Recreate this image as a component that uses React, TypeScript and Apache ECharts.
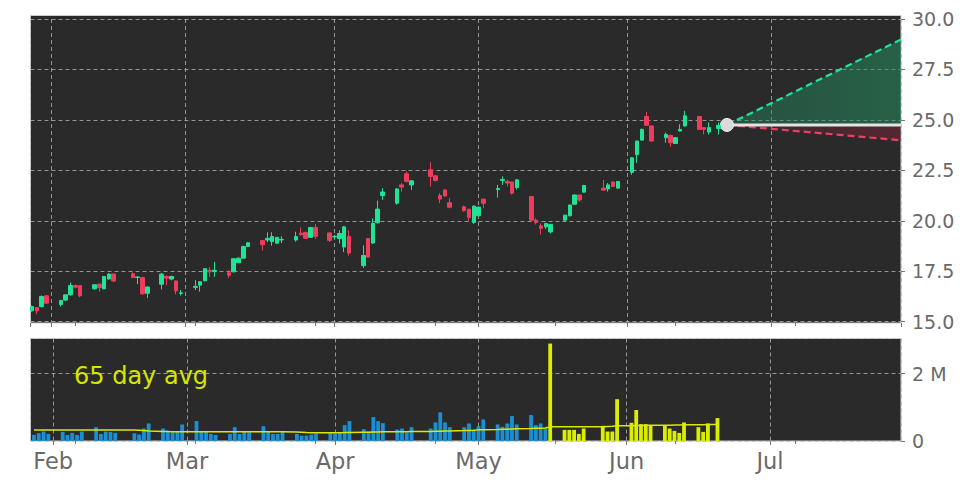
import React, { useEffect, useRef } from 'react';
import * as echarts from 'echarts';

// ---- data ----
const dates = [
  '2025-01-28','2025-01-29','2025-01-30','2025-01-31',
  '2025-02-03','2025-02-04','2025-02-05','2025-02-06','2025-02-07',
  '2025-02-10','2025-02-11','2025-02-12','2025-02-13','2025-02-14',
  '2025-02-18','2025-02-19','2025-02-20','2025-02-21',
  '2025-02-24','2025-02-25','2025-02-26','2025-02-27','2025-02-28',
  '2025-03-03','2025-03-04','2025-03-05','2025-03-06','2025-03-07',
  '2025-03-10','2025-03-11','2025-03-12','2025-03-13','2025-03-14',
  '2025-03-17','2025-03-18','2025-03-19','2025-03-20','2025-03-21',
  '2025-03-24','2025-03-25','2025-03-26','2025-03-27','2025-03-28',
  '2025-03-31','2025-04-01','2025-04-02','2025-04-03','2025-04-04',
  '2025-04-07','2025-04-08','2025-04-09','2025-04-10','2025-04-11',
  '2025-04-14','2025-04-15','2025-04-16','2025-04-17',
  '2025-04-21','2025-04-22','2025-04-23','2025-04-24','2025-04-25',
  '2025-04-28','2025-04-29','2025-04-30','2025-05-01','2025-05-02',
  '2025-05-05','2025-05-06','2025-05-07','2025-05-08','2025-05-09',
  '2025-05-12','2025-05-13','2025-05-14','2025-05-15','2025-05-16',
  '2025-05-19','2025-05-20','2025-05-21','2025-05-22','2025-05-23',
  '2025-05-27','2025-05-28','2025-05-29','2025-05-30',
  '2025-06-02','2025-06-03','2025-06-04','2025-06-05','2025-06-06',
  '2025-06-09','2025-06-10','2025-06-11','2025-06-12','2025-06-13',
  '2025-06-16','2025-06-17','2025-06-18','2025-06-20',
];

const openP = [
  15.54,15.70,15.75,16.28,
  15.85,16.07,16.33,16.79,16.79,
  16.63,16.86,16.63,17.12,17.36,
  17.37,17.19,17.19,16.41,
  16.86,17.24,17.11,17.02,16.40,
  16.70,16.81,17.03,17.55,17.50,
  17.43,17.47,17.92,18.15,18.73,
  19.02,19.05,18.97,18.89,19.05,
  19.05,19.39,19.43,19.18,19.67,
  19.40,19.20,19.12,18.70,19.23,
  17.78,19.12,18.90,19.90,21.25,
  20.87,21.78,22.33,21.78,
  22.53,22.23,21.25,21.53,20.90,
  20.70,20.57,19.92,20.25,21.07,
  21.55,22.00,21.95,21.92,21.65,
  21.20,20.03,19.75,19.70,19.45,
  20.03,20.25,20.82,21.28,21.42,
  21.62,21.58,21.92,21.62,
  22.40,23.28,24.00,25.17,24.70,
  24.12,24.23,23.83,24.45,24.70,
  25.17,24.62,24.40,24.57,
];
const closeP = [
  15.75,15.54,16.25,15.92,
  16.05,16.33,16.79,16.71,16.28,
  16.83,16.69,17.24,17.36,17.02,
  17.19,17.22,16.38,16.72,
  17.36,17.16,17.24,16.53,16.43,
  16.75,16.98,17.63,17.47,17.55,
  17.30,18.12,18.15,18.73,18.91,
  18.81,19.13,19.22,19.18,19.08,
  19.22,19.31,19.13,19.67,19.23,
  19.03,19.23,19.37,19.70,18.40,
  18.28,18.20,19.87,20.58,21.43,
  21.58,21.67,21.95,21.98,
  22.20,22.00,21.08,21.23,20.67,
  20.50,20.17,20.73,20.68,20.87,
  21.60,22.05,21.87,21.37,22.03,
  20.03,19.92,19.62,19.87,19.82,
  20.28,20.78,21.28,21.03,21.75,
  21.52,21.78,21.70,21.95,
  23.12,23.95,24.53,24.73,23.95,
  24.28,23.87,24.12,24.53,25.20,
  24.53,24.53,24.62,24.73,
];
const lowP = [
  15.50,15.37,15.70,15.88,
  15.75,16.02,16.30,16.65,16.22,
  16.58,16.49,16.60,17.08,16.95,
  17.15,16.86,16.33,16.17,
  16.60,16.80,17.05,16.36,16.30,
  16.57,16.49,17.00,17.22,17.22,
  17.17,17.45,17.90,18.12,18.70,
  18.53,18.94,18.77,18.86,18.90,
  18.97,19.26,19.10,19.15,19.10,
  18.95,19.10,18.87,18.45,18.28,
  17.67,18.17,18.85,19.87,21.03,
  20.80,21.45,21.90,21.53,
  21.70,21.95,20.87,21.20,20.62,
  20.45,20.00,19.85,20.22,20.62,
  21.15,21.78,21.70,21.30,21.55,
  20.00,19.82,19.32,19.60,19.37,
  20.00,20.22,20.80,20.95,21.40,
  21.50,21.45,21.68,21.58,
  22.28,22.87,23.97,24.70,23.93,
  23.87,23.67,23.80,24.43,24.67,
  24.50,24.28,24.28,24.28,
];
const highP = [
  15.80,15.72,16.30,16.32,
  16.08,16.36,16.94,16.85,16.82,
  16.86,16.90,17.27,17.40,17.38,
  17.45,17.25,17.22,16.75,
  17.40,17.30,17.28,17.05,16.57,
  17.06,17.00,17.65,17.71,17.96,
  17.55,18.15,18.18,18.76,18.94,
  19.05,19.43,19.43,19.20,19.23,
  19.46,19.67,19.45,19.70,19.84,
  19.43,19.30,19.53,19.72,19.53,
  18.78,19.15,20.12,21.00,21.62,
  21.62,21.87,22.45,22.00,
  22.90,22.25,21.37,21.58,21.12,
  20.75,20.60,20.75,20.70,21.10,
  21.78,22.20,22.03,21.95,22.05,
  21.22,20.12,19.87,19.90,19.85,
  20.30,20.80,21.30,21.30,21.78,
  22.03,21.87,21.95,21.97,
  23.15,23.97,24.57,25.40,24.72,
  24.37,24.27,24.15,24.78,25.45,
  25.20,24.65,24.87,24.87,
];
// volume in millions of shares
const volumeM = [
  0.18,0.23,0.28,0.21,
  0.27,0.18,0.24,0.18,0.28,
  0.41,0.21,0.28,0.27,0.24,
  0.23,0.19,0.37,0.52,
  0.37,0.31,0.26,0.28,0.49,
  0.59,0.28,0.28,0.21,0.18,
  0.21,0.41,0.21,0.27,0.26,
  0.44,0.28,0.21,0.21,0.29,
  0.21,0.16,0.16,0.19,0.22,
  0.24,0.22,0.24,0.47,0.59,
  0.35,0.28,0.71,0.59,0.53,
  0.34,0.37,0.25,0.41,
  0.37,0.55,0.85,0.55,0.41,
  0.41,0.52,0.33,0.44,0.64,
  0.49,0.42,0.52,0.74,0.49,
  0.77,0.47,0.52,0.37,2.89,
  0.33,0.33,0.33,0.21,0.37,
  0.45,0.28,0.28,1.24,
  0.54,0.92,0.50,0.50,0.45,
  0.45,0.37,0.30,0.24,0.55,
  0.41,0.27,0.52,0.68,
];
// 65-day average volume (millions)
const avg65M = [
  0.325,0.325,0.325,0.325,
  0.325,0.325,0.325,0.325,0.325,
  0.325,0.325,0.325,0.325,0.325,
  0.325,0.32,0.31,0.30,
  0.285,0.28,0.278,0.276,0.276,
  0.276,0.276,0.276,0.276,0.276,
  0.276,0.276,0.276,0.276,0.276,
  0.276,0.276,0.276,0.276,0.276,
  0.27,0.26,0.25,0.246,0.246,
  0.246,0.246,0.248,0.25,0.255,
  0.26,0.262,0.266,0.27,0.272,
  0.274,0.276,0.278,0.28,
  0.284,0.288,0.292,0.296,0.30,
  0.31,0.315,0.32,0.33,0.335,
  0.34,0.345,0.35,0.355,0.36,
  0.37,0.375,0.38,0.385,0.42,
  0.42,0.42,0.42,0.42,0.42,
  0.425,0.43,0.435,0.45,
  0.455,0.46,0.46,0.465,0.465,
  0.47,0.47,0.475,0.475,0.48,
  0.485,0.485,0.49,0.49,
];
const highlightFrom = '2025-05-16';
const minorTickDates = ['2025-02-06','2025-03-03','2025-03-28','2025-04-22','2025-05-17','2025-06-11','2025-07-06'];
const forecastDates = ['2025-06-21 18:00', '2025-07-28'];
const forecastBase = [24.75, 24.75];
const forecastUpper = [24.75, 28.98];
const forecastLower = [24.75, 23.99];
const priceAxis = { min: 15, max: 30, step: 2.5 };
const volumeAxis = { max: 3.04e6, step: 2e6 };
const xRange = ['2025-01-27 16:00', '2025-07-28'];

// ---- helpers ----
function ts(s: string): number {
  const [d, t] = s.split(' ');
  const [y, m, dd] = d.split('-').map(Number);
  let hh = 0, mm = 0;
  if (t) { [hh, mm] = t.split(':').map(Number); }
  return new Date(y, m - 1, dd, hh, mm).getTime();
}

const UP = '#1fe495';
const DOWN = '#ef3c5c';
const BLUE = '#1b8fd2';
const YELLOW = '#dcee00';
const BG = '#2a2a2a';
const BORDER = '#cccccc';
const GRIDC = 'rgba(185,185,185,0.75)';
const LABEL = '#6a6a6a';
const FONT = 'DejaVu Sans';

export default function App() {
  const ref = useRef<HTMLDivElement>(null);
  useEffect(() => {
    if (!ref.current) return;
    const chart = echarts.init(ref.current, undefined, { renderer: 'svg' });
    const xMin = ts(xRange[0]);
    const xMax = ts(xRange[1]);
    const hl = ts(highlightFrom);
    const DAY = 86400000;

    const monthLabel = (v: number) => {
      const d = new Date(v);
      if (d.getDate() !== 1 || d.getHours() !== 0) return '';
      return ['Jan','Feb','Mar','Apr','May','Jun','Jul','Aug','Sep','Oct','Nov','Dec'][d.getMonth()];
    };

    const mainX = (grid: number, labels: boolean) => ({
      type: 'time', gridIndex: grid, position: 'bottom', min: xMin, max: xMax,
      splitNumber: 6, minInterval: 28 * DAY, maxInterval: 31 * DAY,
      offset: grid === 0 ? 1.3 : 0,
      axisLine: { show: false },
      axisTick: { show: true, length: 4, lineStyle: { color: '#777' } },
      axisLabel: labels
        ? { show: true, formatter: monthLabel, color: LABEL, fontSize: 22.5, fontFamily: FONT, margin: 8, hideOverlap: false }
        : { show: false },
      splitLine: { show: true, lineStyle: { color: GRIDC, type: [4, 3], width: 1 } },
    });
    const minorX = (grid: number) => ({
      type: 'time', gridIndex: grid, position: 'bottom', min: xMin, max: xMax,
      offset: grid === 0 ? 1.3 : 0,
      axisLine: { show: false },
      axisTick: { show: true, length: 3, lineStyle: { color: '#777' }, customValues: minorTickDates.map(ts) },
      axisLabel: { show: false },
      splitLine: { show: false },
      splitArea: { show: false },
      minorSplitLine: { show: false },
    });

    const gradient = (r: number, g: number, b: number, a0: number, a1: number) =>
      new echarts.graphic.LinearGradient(0, 0, 1, 0, [
        { offset: 0, color: `rgba(${r},${g},${b},${a0})` },
        { offset: 1, color: `rgba(${r},${g},${b},${a1})` },
      ]);

    const option: any = {
      animation: false,
      backgroundColor: '#ffffff',
      textStyle: { fontFamily: FONT },
      graphic: [
        {
          type: 'rect', z: -10,
          shape: { x: 30.5, y: 15.5, width: 870.5, height: 307.5 },
          style: { fill: BG, stroke: BORDER, lineWidth: 1 },
        },
        {
          type: 'text', left: 74, top: 364, z: 50,
          style: { text: '65 day avg', fill: '#d6e600', fontSize: 24, fontFamily: FONT },
        },
      ],
      grid: [
        { left: 30.5, right: 71, top: 19, height: 302.7, show: false },
        { left: 30.5, right: 71, top: 338.5, height: 102.5, show: true, backgroundColor: BG, borderColor: BORDER, borderWidth: 1 },
      ],
      xAxis: [mainX(0, false), mainX(1, true), minorX(0), minorX(1)],
      yAxis: [
        {
          type: 'value', gridIndex: 0, position: 'right',
          min: priceAxis.min, max: priceAxis.max, interval: priceAxis.step,
          axisLine: { show: false },
          axisTick: { show: true, length: 4, lineStyle: { color: '#777' } },
          axisLabel: { formatter: (v: number) => v.toFixed(1), color: LABEL, fontSize: 19, fontFamily: FONT, margin: 11 },
          splitLine: { show: true, lineStyle: { color: GRIDC, type: [4, 3], width: 1 } },
        },
        {
          type: 'value', gridIndex: 1, position: 'right',
          min: 0, max: volumeAxis.max, interval: volumeAxis.step,
          axisLine: { show: false },
          axisTick: { show: true, length: 4, lineStyle: { color: '#777' } },
          axisLabel: {
            formatter: (v: number) => (v === 0 ? '0' : `${Math.round(v / 1e6)} M`),
            color: LABEL, fontSize: 19, fontFamily: FONT, margin: 11, showMaxLabel: false,
          },
          splitLine: { show: true, lineStyle: { color: GRIDC, type: [4, 3], width: 1 } },
        },
      ],
      series: [
        {
          type: 'line', xAxisIndex: 0, yAxisIndex: 0, symbol: 'none', z: 3,
          data: forecastDates.map((d, i) => [ts(d), forecastUpper[i]]),
          lineStyle: { color: '#1ee39a', width: 2.2, type: [7, 4] },
          areaStyle: { origin: forecastBase[0], color: gradient(36, 140, 95, 0.4, 0.55), opacity: 1 },
        },
        {
          type: 'line', xAxisIndex: 0, yAxisIndex: 0, symbol: 'none', z: 3,
          data: forecastDates.map((d, i) => [ts(d), forecastLower[i]]),
          lineStyle: { color: '#ec3f60', width: 2.2, type: [7, 4] },
          areaStyle: { origin: forecastBase[0], color: gradient(140, 35, 58, 0.12, 0.42), opacity: 1 },
        },
        {
          type: 'line', xAxisIndex: 0, yAxisIndex: 0, symbol: 'none', z: 4,
          data: forecastDates.map((d, i) => [ts(d), forecastBase[i]]),
          lineStyle: { color: '#e4e4e4', width: 3 },
        },
        {
          type: 'scatter', xAxisIndex: 0, yAxisIndex: 0, z: 5,
          data: [[ts(forecastDates[0]), forecastBase[0]]],
          symbolSize: 13,
          itemStyle: { color: '#dadada', borderColor: '#efefef', borderWidth: 1, opacity: 1 },
        },
        {
          type: 'candlestick', xAxisIndex: 0, yAxisIndex: 0, z: 6,
          data: dates.map((d, i) => [ts(d), openP[i], closeP[i], lowP[i], highP[i]]),
          encode: { x: 0, y: [1, 2, 3, 4] },
          barWidth: 4,
          itemStyle: { color: UP, color0: DOWN, borderColor: UP, borderColor0: DOWN, borderWidth: 1 },
        },
        {
          type: 'bar', xAxisIndex: 1, yAxisIndex: 1, barWidth: 3.8, z: 3,
          data: dates.map((d, i) => ({
            value: [ts(d), volumeM[i] * 1e6],
            itemStyle: { color: ts(d) >= hl ? YELLOW : BLUE },
          })),
        },
        {
          type: 'line', xAxisIndex: 1, yAxisIndex: 1, symbol: 'none', z: 4,
          data: dates.map((d, i) => [ts(d), avg65M[i] * 1e6]),
          lineStyle: { color: '#dde800', width: 1.5 },
        },
      ],
    };
    chart.setOption(option);
    return () => chart.dispose();
  }, []);
  return <div ref={ref} style={{ position: 'absolute', left: 0, top: 0, width: 972, height: 486 }} />;
}
